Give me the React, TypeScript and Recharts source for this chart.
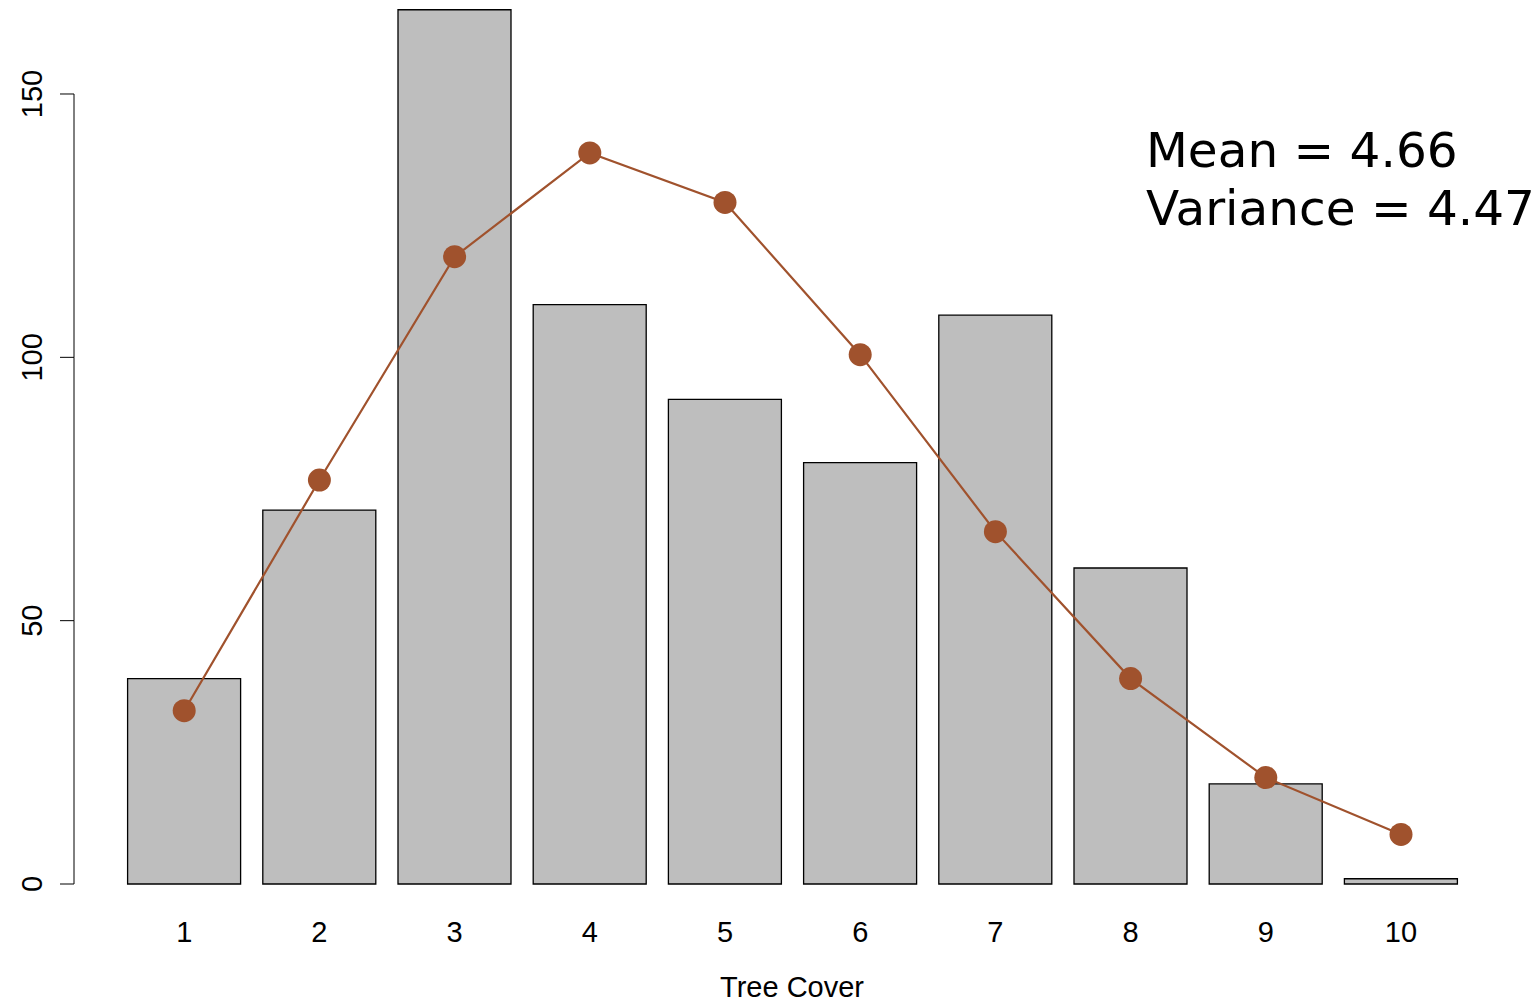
import React from 'react';
import { ComposedChart, Bar, Line, XAxis, YAxis } from 'recharts';

const categories = ['1', '2', '3', '4', '5', '6', '7', '8', '9', '10'];
const counts = [39, 71, 166, 110, 92, 80, 108, 60, 19, 1];
const fitted = [32.9, 76.7, 119.1, 138.8, 129.4, 100.5, 66.9, 39.0, 20.2, 9.4];
const yTicks = [0, 50, 100, 150];
const annotations = ['Mean = 4.66', 'Variance = 4.47'];

const data = categories.map((c, i) => ({ cat: c, count: counts[i], fit: fitted[i] }));

const CHART_W = 1539;
const CHART_H = 1003;
const MARGIN = { top: 9.73, right: 29, bottom: 0, left: 0 };
const XAXIS_H = 119;
const Y_MAX = 166;
const Y_AXIS_W = 74;
const TICK_SIZE = 14;
const PLOT_H = CHART_H - MARGIN.top - MARGIN.bottom - XAXIS_H;
const TICK_STEP_PX = (PLOT_H * (yTicks[1] - yTicks[0])) / Y_MAX;
const FONT = '"Liberation Sans", Arial, Helvetica, sans-serif';
const SIENNA = '#a0522d';

function YTick(props: any) {
  const { x, y, payload, index } = props;
  const axisX = x + TICK_SIZE;
  const isLast = index === yTicks.length - 1;
  return (
    <g>
      {!isLast && (
        <line x1={axisX} x2={axisX} y1={y} y2={y - TICK_STEP_PX} stroke="#000" strokeWidth={1} />
      )}
      <text
        transform={`translate(${x - 18},${y}) rotate(-90)`}
        textAnchor="middle"
        fontSize={29}
        fontFamily={FONT}
        fill="#000"
      >
        {payload.value}
      </text>
    </g>
  );
}

export default function App() {
  return (
    <div style={{ position: 'absolute', left: 0, top: 0, width: CHART_W, height: CHART_H, background: '#fff' }}>
      <ComposedChart
        width={CHART_W}
        height={CHART_H}
        data={data}
        margin={MARGIN}
        style={{ fontFamily: FONT }}
      >
        <XAxis
          dataKey="cat"
          type="category"
          height={XAXIS_H}
          padding={{ left: 42.6, right: 41.4 }}
          axisLine={false}
          tickLine={false}
          tickSize={0}
          tickMargin={37.5}
          interval={0}
          tick={{ fontSize: 29, fill: '#000', fontFamily: FONT }}
          label={{ value: 'Tree Cover', position: 'insideBottom', offset: 6, fontSize: 29, fill: '#000', fontFamily: FONT }}
        />
        <YAxis
          type="number"
          domain={[0, Y_MAX]}
          ticks={yTicks}
          width={Y_AXIS_W}
          axisLine={false}
          tickLine={{ stroke: '#000', strokeWidth: 1 }}
          tickSize={TICK_SIZE}
          tickMargin={0}
          interval={0}
          tick={<YTick />}
        />
        <Bar dataKey="count" barSize={113} fill="#bebebe" stroke="#000" strokeWidth={1.3} isAnimationActive={false} />
        <Line
          dataKey="fit"
          type="linear"
          stroke={SIENNA}
          strokeWidth={2.2}
          dot={{ r: 11.5, fill: SIENNA, stroke: 'none' }}
          activeDot={false}
          isAnimationActive={false}
        />
      </ComposedChart>
      <svg
        width={CHART_W}
        height={CHART_H}
        style={{ position: 'absolute', left: 0, top: 0, pointerEvents: 'none' }}
      >
        {annotations.map((t, i) => (
          <text key={t} x={1146} y={167 + i * 58.3} fontSize={48.5} fontFamily='"DejaVu Sans", Verdana, sans-serif' fill="#000">
            {t}
          </text>
        ))}
      </svg>
    </div>
  );
}
